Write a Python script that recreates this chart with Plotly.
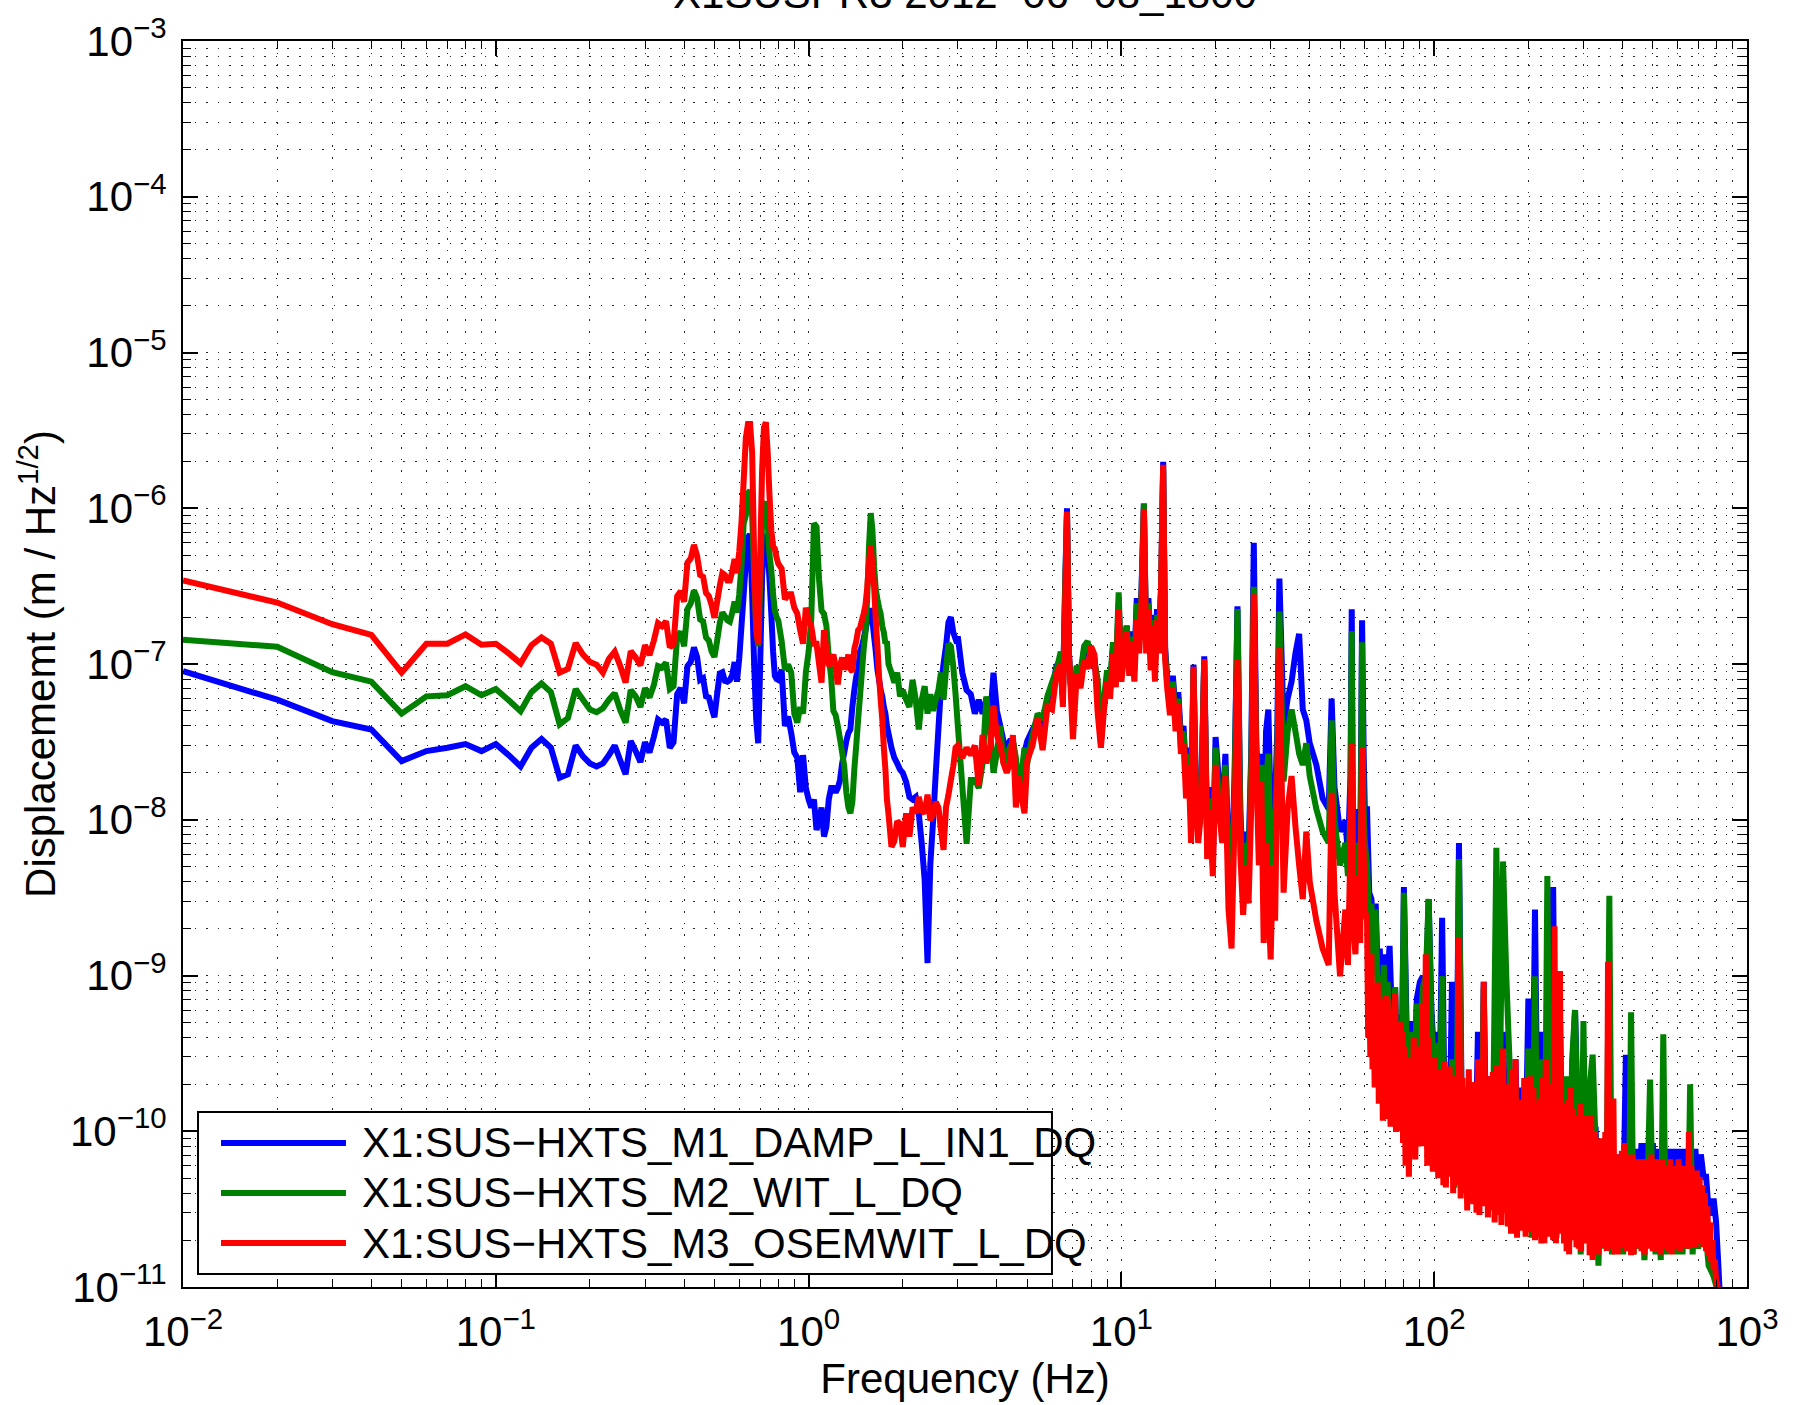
import plotly.graph_objects as go

# ---------------- data ----------------
freq_low = [0.01, 0.02, 0.03, 0.04, 0.05, 0.06, 0.07, 0.08, 0.09, 0.10,
            0.11, 0.12, 0.13, 0.14, 0.15, 0.16, 0.17, 0.18, 0.19, 0.20,
            0.21, 0.22, 0.23, 0.24, 0.25, 0.26, 0.27, 0.28, 0.29, 0.30,
            0.31, 0.32, 0.33, 0.34, 0.35, 0.36, 0.37, 0.38, 0.39, 0.40,
            0.41, 0.42, 0.43, 0.44, 0.45, 0.46, 0.47, 0.48, 0.49, 0.50,
            0.51, 0.52, 0.53, 0.54, 0.55, 0.56, 0.57, 0.58, 0.59, 0.60,
            0.61, 0.62, 0.63, 0.64, 0.65, 0.66, 0.67, 0.68, 0.69, 0.70,
            0.71, 0.72, 0.73, 0.74, 0.75, 0.76, 0.77, 0.78, 0.79]
blue_low = [9.0e-8, 5.9e-8, 4.3e-8, 3.8e-8, 2.38e-8, 2.76e-8, 2.9e-8, 3.06e-8, 2.76e-8, 3.06e-8,
            2.6e-8, 2.2e-8, 2.9e-8, 3.3e-8, 2.9e-8, 1.86e-8, 1.96e-8, 3.0e-8, 2.55e-8, 2.3e-8,
            2.2e-8, 2.3e-8, 2.6e-8, 3.0e-8, 2.4e-8, 1.96e-8, 3.2e-8, 2.76e-8, 2.35e-8, 3.15e-8,
            2.7e-8, 3.4e-8, 4.4e-8, 4.2e-8, 4.4e-8, 2.9e-8, 3.15e-8, 6.4e-8, 7.0e-8, 5.6e-8,
            9.7e-8, 1.03e-7, 1.28e-7, 1.11e-7, 7.9e-8, 8.1e-8, 6.2e-8, 6.1e-8, 5.2e-8, 4.55e-8,
            6.4e-8, 8.7e-8, 8.86e-8, 7.8e-8, 7.7e-8, 7.9e-8, 8.5e-8, 1.03e-7, 7.7e-8, 1.08e-7,
            1.74e-7, 2.79e-7, 4.48e-7, 6.5e-7, 6.8e-7, 2.8e-7, 9.7e-8, 4.4e-8, 3.1e-8, 9.7e-8,
            3.6e-7, 6.1e-7, 6.8e-7, 5.5e-7, 3.5e-7, 2.1e-7, 1.2e-7, 8.4e-8, 8.0e-8]
green_low = [1.43e-7, 1.29e-7, 8.86e-8, 7.7e-8, 4.8e-8, 6.2e-8, 6.3e-8, 7.2e-8, 6.3e-8, 6.9e-8,
             5.85e-8, 4.97e-8, 6.6e-8, 7.5e-8, 6.6e-8, 4.1e-8, 4.5e-8, 6.9e-8, 5.9e-8, 5.1e-8,
             4.9e-8, 5.2e-8, 5.9e-8, 6.5e-8, 5.05e-8, 4.2e-8, 6.8e-8, 6.2e-8, 5.3e-8, 7.0e-8,
             6.1e-8, 7.3e-8, 9.7e-8, 9.5e-8, 1.02e-7, 6.9e-8, 7.2e-8, 1.5e-7, 1.61e-7, 1.30e-7,
             2.26e-7, 2.45e-7, 2.97e-7, 2.65e-7, 1.93e-7, 1.88e-7, 1.48e-7, 1.41e-7, 1.20e-7, 1.11e-7,
             1.41e-7, 1.83e-7, 2.14e-7, 2.03e-7, 1.91e-7, 1.87e-7, 2.14e-7, 2.51e-7, 2.14e-7, 2.79e-7,
             4.26e-7, 7.98e-7, 9.0e-7, 1.25e-6, 1.3e-6, 9.0e-7, 3.5e-7, 1.7e-7, 1.3e-7, 3.0e-7,
             8.0e-7, 1.05e-6, 1.1e-6, 8.0e-7, 5.0e-7, 4.0e-7, 2.8e-7, 2.2e-7, 2.0e-7]
red_low = [3.44e-7, 2.48e-7, 1.80e-7, 1.54e-7, 8.8e-8, 1.35e-7, 1.35e-7, 1.55e-7, 1.33e-7, 1.35e-7,
           1.17e-7, 1.01e-7, 1.32e-7, 1.48e-7, 1.35e-7, 8.8e-8, 9.3e-8, 1.36e-7, 1.15e-7, 1.03e-7,
           9.9e-8, 8.8e-8, 1.08e-7, 1.20e-7, 9.7e-8, 7.6e-8, 1.21e-7, 1.10e-7, 9.8e-8, 1.32e-7,
           1.14e-7, 1.41e-7, 1.83e-7, 1.75e-7, 1.88e-7, 1.28e-7, 1.34e-7, 2.72e-7, 2.94e-7, 2.51e-7,
           4.48e-7, 4.76e-7, 5.82e-7, 4.97e-7, 3.73e-7, 3.63e-7, 2.86e-7, 2.72e-7, 2.38e-7, 1.98e-7,
           2.51e-7, 3.18e-7, 3.83e-7, 3.73e-7, 3.44e-7, 3.44e-7, 3.93e-7, 4.72e-7, 3.83e-7, 5.24e-7,
           8.0e-7, 1.50e-6, 2.82e-6, 3.47e-6, 3.47e-6, 2.28e-6, 4.72e-7, 1.65e-7, 1.34e-7, 4.72e-7,
           1.75e-6, 3.3e-6, 3.57e-6, 2.28e-6, 1.2e-6, 7.2e-7, 5.7e-7, 5.5e-7, 4.8e-7]

freq_mid = [0.80, 0.82, 0.84, 0.86, 0.88, 0.90, 0.92, 0.94, 0.96, 0.98,
            1.00, 1.02, 1.04, 1.06, 1.08, 1.10, 1.12, 1.14, 1.16, 1.18,
            1.20, 1.22, 1.24, 1.26, 1.28, 1.30, 1.32, 1.34, 1.36, 1.38,
            1.40, 1.42, 1.44, 1.46, 1.48, 1.50, 1.52, 1.54, 1.56, 1.58,
            1.60, 1.62, 1.64, 1.66, 1.68, 1.70, 1.72, 1.74, 1.76, 1.78,
            1.80, 1.84, 1.88, 1.92, 1.96,
            2.00, 2.05, 2.10, 2.15, 2.20, 2.25, 2.30, 2.35, 2.40, 2.45,
            2.50, 2.55, 2.60, 2.65, 2.70, 2.75, 2.80, 2.85, 2.90, 2.95,
            3.0, 3.1, 3.2, 3.3, 3.4, 3.5, 3.6, 3.7, 3.8, 3.9,
            4.0, 4.1, 4.2, 4.3, 4.4, 4.5, 4.6, 4.7, 4.8, 4.9,
            5.0, 5.2, 5.4, 5.6, 5.8,
            6.0, 6.2, 6.4, 6.5, 6.6, 6.7, 6.8,
            7.0, 7.2, 7.4, 7.6, 7.8,
            8.0, 8.2, 8.4]
blue_mid = [7.9e-8, 9.2e-8, 4.0e-8, 4.6e-8, 3.6e-8, 2.7e-8, 2.5e-8, 1.5e-8, 2.6e-8, 1.6e-8,
            1.35e-8, 1.2e-8, 1.35e-8, 8.6e-9, 9.8e-9, 1.2e-8, 7.8e-9, 9.0e-9, 1.35e-8, 1.6e-8,
            1.6e-8, 1.5e-8, 1.6e-8, 1.8e-8, 2.3e-8, 2.7e-8, 3.2e-8, 3.6e-8, 3.8e-8, 5.3e-8,
            6.8e-8, 8.3e-8, 9.2e-8, 1.2e-7, 1.3e-7, 1.45e-7, 1.65e-7, 1.9e-7, 2.2e-7, 2.2e-7,
            1.9e-7, 1.5e-7, 1.2e-7, 9.2e-8, 7.9e-8, 6.8e-8, 6.2e-8, 5.3e-8, 4.8e-8, 4.0e-8,
            3.6e-8, 2.9e-8, 2.5e-8, 2.3e-8, 2.1e-8,
            2.0e-8, 1.75e-8, 1.4e-8, 1.35e-8, 1.4e-8, 1.1e-8, 7.0e-9, 4.1e-9, 1.2e-9, 5.2e-9,
            9.8e-9, 2.0e-8, 3.8e-8, 7.2e-8, 1.0e-7, 1.3e-7, 1.85e-7, 2.0e-7, 1.6e-7, 1.45e-7,
            1.5e-7, 8.8e-8, 6.8e-8, 6.4e-8, 4.8e-8, 5.9e-8, 4.8e-8, 5.9e-8, 4.2e-8, 8.8e-8,
            5.0e-8, 4.0e-8, 3.2e-8, 2.9e-8, 3.2e-8, 3.2e-8, 2.3e-8, 1.4e-8, 1.8e-8, 2.7e-8,
            3.2e-8, 3.8e-8, 4.4e-8, 4.0e-8, 5.9e-8,
            6.8e-8, 9.7e-8, 1.05e-7, 6.2e-8, 2.8e-7, 1.0e-6, 1.15e-7,
            4.4e-8, 9.7e-8, 7.9e-8, 1.25e-7, 1.3e-7,
            9.7e-8, 1.1e-7, 6.2e-8]
green_mid = [1.9e-7, 1.4e-7, 9.2e-8, 9.9e-8, 8.8e-8, 4.8e-8, 4.2e-8, 5.3e-8, 4.8e-8, 8.8e-8,
             1.2e-7, 1.95e-7, 8.0e-7, 7.6e-7, 3.5e-7, 2.2e-7, 2.1e-7, 1.75e-7, 1.1e-7, 8.3e-8,
             5.0e-8, 4.7e-8, 4.0e-8, 3.3e-8, 2.7e-8, 2.2e-8, 1.5e-8, 1.2e-8, 1.1e-8, 1.3e-8,
             2.1e-8, 3.0e-8, 4.4e-8, 6.2e-8, 8.8e-8, 1.25e-7, 1.6e-7, 2.7e-7, 5.7e-7, 9.3e-7,
             7.2e-7, 4.2e-7, 3.0e-7, 2.6e-7, 2.3e-7, 2.1e-7, 1.75e-7, 1.6e-7, 1.35e-7, 1.4e-7,
             1.0e-7, 8.8e-8, 7.6e-8, 8.8e-8, 6.2e-8,
             6.8e-8, 5.9e-8, 5.3e-8, 7.9e-8, 5.9e-8, 3.8e-8, 5.9e-8, 7.2e-8, 4.8e-8, 6.4e-8,
             5.0e-8, 5.9e-8, 6.8e-8, 8.8e-8, 5.9e-8, 9.2e-8, 1.35e-7, 1.3e-7, 9.7e-8, 6.4e-8,
             4.0e-8, 1.65e-8, 7.0e-9, 1.8e-8, 1.8e-8, 1.6e-8, 2.3e-8, 6.2e-8, 3.8e-8, 2.0e-8,
             2.7e-8, 4.0e-8, 2.3e-8, 2.7e-8, 2.9e-8, 3.2e-8, 2.5e-8, 1.5e-8, 2.0e-8, 2.9e-8,
             2.3e-8, 3.5e-8, 4.8e-8, 4.4e-8, 6.2e-8,
             7.6e-8, 9.2e-8, 1.2e-7, 5.9e-8, 2.7e-7, 9.5e-7, 1.1e-7,
             4.8e-8, 9.7e-8, 8.8e-8, 1.3e-7, 1.4e-7,
             1.0e-7, 1.05e-7, 7.9e-8]
red_mid = [4.4e-7, 4.1e-7, 2.6e-7, 2.8e-7, 2.8e-7, 2.3e-7, 2.1e-7, 1.65e-7, 1.35e-7, 2.3e-7,
           1.9e-7, 1.75e-7, 1.35e-7, 1.35e-7, 1.0e-7, 7.6e-8, 1.65e-7, 1.25e-7, 9.7e-8, 1.05e-7,
           1.15e-7, 9.7e-8, 7.4e-8, 9.7e-8, 1.1e-7, 9.3e-8, 9.7e-8, 1.15e-7, 9.3e-8, 8.9e-8,
           1.25e-7, 1.4e-7, 1.65e-7, 1.7e-7, 1.9e-7, 2.1e-7, 2.4e-7, 3.1e-7, 4.5e-7, 5.7e-7,
           4.2e-7, 3.1e-7, 1.9e-7, 1.3e-7, 8.3e-8, 5.9e-8, 4.4e-8, 2.9e-8, 2.1e-8, 1.35e-8,
           1.1e-8, 6.7e-9, 7.3e-9, 9.8e-9, 9.4e-9,
           6.7e-9, 1.1e-8, 7.8e-9, 1.2e-8, 1.1e-8, 1.4e-8, 1.15e-8, 1.1e-8, 1.45e-8, 9.9e-9,
           1.1e-8, 1.3e-8, 1.2e-8, 8.6e-9, 6.4e-9, 1.2e-8, 1.45e-8, 1.8e-8, 2.2e-8, 2.9e-8,
           3.0e-8, 2.5e-8, 2.9e-8, 2.6e-8, 3.0e-8, 1.65e-8, 3.5e-8, 2.3e-8, 2.9e-8, 5.4e-8,
           3.5e-8, 3.0e-8, 2.3e-8, 2.0e-8, 2.3e-8, 3.5e-8, 1.2e-8, 1.9e-8, 1.4e-8, 1.1e-8,
           2.4e-8, 3.0e-8, 4.5e-8, 2.8e-8, 5.3e-8,
           5.1e-8, 8.6e-8, 1.0e-7, 5.3e-8, 2.1e-7, 9.5e-7, 1.15e-7,
           3.3e-8, 8.6e-8, 7.0e-8, 1.05e-7, 9.3e-8,
           1.3e-7, 1.15e-7, 4.8e-8]

freq_h1 = [8.6, 8.8, 9.0, 9.2, 9.4, 9.6, 9.8, 10.0, 10.2, 10.4,
           10.6, 10.8, 11.0, 11.2, 11.4, 11.6, 11.8, 12.0, 12.2, 12.4,
           12.6, 12.8, 13.0, 13.2, 13.4, 13.6, 13.8, 14.0,
           14.3, 14.6, 14.9, 15.2, 15.5, 15.8, 16.1, 16.4, 16.7, 17.0, 17.3, 17.6,
           18.0, 18.4, 18.8, 19.2, 19.6,
           20.0, 20.5, 21.0, 21.5, 22.0, 22.5, 23.0, 23.5, 24.0, 24.5,
           25.0, 25.5, 26.0, 26.5, 27.0, 27.5, 28.0, 28.5, 29.0, 29.5,
           30.0, 30.5, 31.0, 31.5, 32.0,
           33, 34, 35, 36, 37, 38, 39, 40,
           42, 44, 46, 47, 48, 50, 52, 53, 54, 54.5,
           55, 56, 57, 58, 58.8, 59.5, 60]
blue_h1 = [3.1e-8, 5.6e-8, 8.4e-8, 7.1e-8, 1.27e-7, 7.7e-8, 2.45e-7, 9.1e-8, 1.27e-7, 1.76e-7,
           9.1e-8, 1.62e-7, 9.9e-8, 2.65e-7, 1.49e-7, 3.13e-7, 1.07e-6, 1.38e-7, 2.65e-7, 1.27e-7,
           2.07e-7, 9.9e-8, 2.25e-7, 1.49e-7, 3.13e-7, 1.99e-6, 1.27e-7, 8.4e-8,
           6.6e-8, 8.4e-8, 5.1e-8, 6.6e-8, 3.4e-8, 4.0e-8, 1.91e-8, 2.9e-8, 1.17e-8, 9.9e-8, 1.62e-8, 9.1e-9,
           1.49e-8, 1.12e-7, 7.7e-9, 1.62e-8, 5.1e-9,
           3.4e-8, 1.76e-8, 9.9e-9, 2.65e-8, 6.0e-9, 4.35e-9, 1.91e-8, 2.35e-7, 1.17e-8, 4.0e-9,
           8.4e-9, 6.0e-9, 2.65e-8, 6.0e-7, 3.1e-8, 1.17e-8, 2.65e-8, 5.1e-9, 3.7e-8, 5.1e-8,
           1.17e-8, 1.91e-8, 1.37e-8, 3.7e-8, 3.54e-7,
           4.0e-8, 6.0e-8, 7.7e-8, 1.17e-7, 1.56e-7, 5.1e-8, 4.35e-8, 3.1e-8,
           2.25e-8, 1.37e-8, 1.17e-8, 6.0e-8, 1.62e-8, 8.4e-9, 9.9e-9, 6.0e-9, 1.91e-8, 2.25e-7,
           7.1e-9, 5.1e-9, 1.17e-8, 5.1e-9, 1.91e-7, 2.65e-8, 1.17e-8]
green_h1 = [3.7e-8, 6.0e-8, 9.1e-8, 7.7e-8, 1.38e-7, 9.1e-8, 2.88e-7, 8.4e-8, 1.38e-7, 1.76e-7,
            9.9e-8, 1.49e-7, 9.1e-8, 2.45e-7, 1.38e-7, 2.88e-7, 1.07e-6, 1.38e-7, 2.45e-7, 1.17e-7,
            1.91e-7, 9.1e-8, 2.07e-7, 1.38e-7, 3.13e-7, 1.76e-6, 1.17e-7, 7.7e-8,
            6.0e-8, 7.7e-8, 4.35e-8, 6.0e-8, 2.9e-8, 3.7e-8, 1.76e-8, 2.65e-8, 9.9e-9, 9.1e-8, 1.49e-8, 7.7e-9,
            1.27e-8, 1.07e-7, 6.6e-9, 1.37e-8, 6.0e-9,
            2.9e-8, 1.37e-8, 9.1e-9, 2.25e-8, 5.1e-9, 3.4e-9, 1.62e-8, 2.25e-7, 9.9e-9, 3.4e-9,
            7.1e-9, 5.1e-9, 2.25e-8, 3.13e-7, 2.65e-8, 7.7e-9, 2.25e-8, 3.4e-9, 1.76e-8, 2.65e-8,
            5.1e-9, 1.17e-8, 7.7e-9, 2.65e-8, 2.17e-7,
            1.76e-8, 3.7e-8, 5.1e-8, 3.7e-8, 2.65e-8, 2.25e-8, 3.1e-8, 1.91e-8,
            1.17e-8, 8.4e-9, 7.1e-9, 4.35e-8, 9.9e-9, 5.1e-9, 7.1e-9, 4.35e-9, 1.17e-8, 1.62e-7,
            4.35e-9, 3.1e-9, 7.1e-9, 3.1e-9, 1.38e-7, 1.17e-8, 7.1e-9]
red_h1 = [2.9e-8, 5.1e-8, 7.7e-8, 6.0e-8, 1.17e-7, 7.1e-8, 2.25e-7, 7.7e-8, 1.17e-7, 1.62e-7,
          8.4e-8, 1.38e-7, 7.7e-8, 1.91e-7, 1.17e-7, 2.45e-7, 9.9e-7, 1.17e-7, 2.25e-7, 9.1e-8,
          1.76e-7, 7.7e-8, 1.91e-7, 1.17e-7, 3.4e-7, 1.9e-6, 1.07e-7, 7.1e-8,
          4.7e-8, 7.1e-8, 3.7e-8, 5.6e-8, 2.65e-8, 3.1e-8, 1.37e-8, 2.25e-8, 7.1e-9, 9.6e-8, 1.27e-8, 7.1e-9,
          1.17e-8, 1.07e-7, 5.6e-9, 1.17e-8, 4.35e-9,
          2.25e-8, 1.17e-8, 7.1e-9, 1.91e-8, 2.65e-9, 1.49e-9, 9.9e-9, 1.07e-7, 6.0e-9, 2.45e-9,
          5.1e-9, 2.9e-9, 1.17e-8, 2.8e-7, 2.25e-8, 5.1e-9, 1.76e-8, 1.62e-9, 7.1e-9, 3.1e-9,
          1.27e-9, 5.1e-9, 2.25e-9, 1.91e-8, 1.27e-7,
          3.4e-9, 1.17e-8, 1.91e-8, 9.1e-9, 5.1e-9, 3.1e-9, 8.4e-9, 4.0e-9,
          2.25e-9, 1.49e-9, 1.17e-9, 1.49e-8, 3.4e-9, 9.9e-10, 2.65e-9, 1.17e-9, 7.1e-9, 3.1e-8,
          2.25e-9, 1.37e-9, 4.35e-9, 1.62e-9, 2.9e-8, 6.0e-9, 2.65e-9]

# 60-830 Hz, blue and green
freq_h2 = [61, 62, 63, 64, 65, 66, 67, 68, 69, 70,
           71, 72, 73, 74, 75, 76, 77, 78, 79, 80,
           82, 84, 86, 88, 90, 92, 94, 96, 98, 100,
           102, 104, 106, 108, 110, 112, 114, 116, 118, 120,
           123, 126, 129, 132, 135, 138, 141, 144, 147, 150,
           154, 158, 162, 166, 170, 174, 178, 182, 186, 190,
           195, 200, 205, 210, 215, 220, 225, 230, 235, 240,
           246, 252, 258, 264, 270, 276, 282, 288, 294, 300,
           307, 314, 321, 328, 335, 342, 349, 356, 363, 370,
           378, 386, 394, 402, 410, 418, 426, 434, 442, 450,
           460, 470, 480, 490, 500, 510, 520, 530, 540, 550,
           562, 574, 586, 598, 610, 622, 634, 646, 658, 670,
           684, 698, 712, 726, 740, 754, 768, 782, 796, 810,
           830]
blue_h2 = [1.17e-8, 3.4e-9, 3.1e-9, 1.49e-9, 2.9e-9, 9.9e-10, 1.49e-9, 5.1e-10, 1.37e-9, 4.35e-10,
           9.9e-10, 1.55e-9, 6.6e-10, 4.35e-10, 8.4e-10, 2.9e-10, 5.6e-10, 2.45e-10, 4.7e-10, 3.7e-9,
           2.9e-10, 5.1e-10, 1.76e-10, 7.1e-10, 9.1e-10, 9.9e-10, 6.6e-10, 3.1e-9, 6.0e-10, 2.9e-10,
           4.35e-10, 1.62e-10, 2.35e-9, 1.27e-10, 2.25e-10, 9.9e-11, 9.1e-10, 8.4e-11, 1.91e-10, 7.1e-9,
           5.6e-11, 1.91e-10, 4.0e-11, 9.9e-11, 4.7e-11, 4.35e-10, 4.35e-11, 9.1e-10, 5.6e-11, 2.25e-10,
           8.4e-11, 2.9e-10, 5.6e-11, 4.35e-10, 6.0e-11, 2.25e-10, 3.7e-11, 2.9e-10, 3.1e-11, 1.91e-10,
           3.7e-11, 7.1e-10, 3.1e-11, 2.65e-9, 3.7e-11, 4.35e-10, 2.9e-11, 6.6e-10, 3.7e-11, 3.7e-9,
           2.9e-11, 6.6e-10, 3.7e-11, 1.91e-10, 2.45e-11, 2.25e-10, 6.0e-10, 1.17e-10, 2.45e-11, 1.37e-10,
           2.9e-11, 1.49e-10, 2.07e-11, 1.07e-10, 2.25e-11, 8.4e-11, 3.1e-11, 7.1e-11, 8.4e-11, 2.45e-11,
           7.1e-11, 2.65e-11, 7.1e-11, 3.1e-11, 3.1e-10, 3.7e-11, 7.7e-11, 3.1e-11, 7.7e-11, 3.7e-11,
           8.4e-11, 3.4e-11, 8.4e-11, 3.7e-11, 8.4e-11, 3.7e-11, 7.7e-11, 3.4e-11, 8.4e-11, 3.7e-11,
           7.7e-11, 3.4e-11, 7.7e-11, 3.7e-11, 7.7e-11, 3.7e-11, 7.7e-11, 3.7e-11, 7.7e-11, 3.7e-11,
           7.7e-11, 3.7e-11, 7.1e-11, 5.1e-11, 5.1e-11, 3.1e-11, 2.9e-11, 3.7e-11, 2.65e-11, 1.37e-11,
           5e-12]
green_h2 = [5.1e-9, 2.25e-9, 2.9e-9, 9.9e-10, 2.65e-9, 6.6e-10, 9.9e-10, 4.35e-10, 1.17e-9, 2.9e-10,
            9.1e-10, 3.7e-10, 6.0e-10, 2.9e-10, 8.4e-10, 1.91e-10, 5.1e-10, 2.25e-10, 4.35e-10, 3.4e-9,
            1.91e-10, 4.35e-10, 1.62e-10, 6.6e-10, 2.9e-10, 8.4e-10, 9.9e-10, 3.1e-9, 5.1e-10, 1.91e-10,
            3.7e-10, 1.27e-10, 9.9e-10, 8.4e-11, 1.91e-10, 7.1e-11, 2.9e-10, 4.35e-11, 1.27e-10, 5.6e-9,
            4.35e-11, 1.27e-10, 3.7e-11, 8.4e-11, 4.35e-11, 1.91e-10, 3.7e-11, 8.4e-10, 3.4e-11, 1.91e-10,
            8.4e-11, 6.6e-9, 1.91e-10, 5.4e-9, 9.9e-10, 2.9e-10, 3.1e-11, 1.91e-10, 2.45e-11, 1.27e-10,
            2.45e-11, 3.4e-10, 2.07e-11, 9.9e-10, 2.45e-11, 2.9e-10, 2.07e-11, 4.35e-9, 2.45e-11, 6.6e-10,
            2.07e-11, 4.35e-10, 2.25e-11, 2.25e-10, 1.91e-11, 2.9e-10, 6.0e-10, 8.4e-11, 1.62e-11, 5.1e-10,
            2.07e-11, 1.91e-10, 3.1e-10, 8.4e-11, 1.37e-11, 5.6e-11, 1.76e-11, 5.1e-11, 3.25e-9, 1.62e-11,
            5.6e-11, 1.76e-11, 3.7e-11, 1.62e-11, 4.35e-11, 1.91e-11, 5.8e-10, 1.62e-11, 3.7e-11, 1.76e-11,
            4.35e-11, 1.49e-11, 3.7e-11, 2.15e-10, 3.1e-11, 1.62e-11, 4.0e-11, 1.49e-11, 4.2e-10, 1.62e-11,
            3.7e-11, 1.76e-11, 3.4e-11, 1.62e-11, 4.0e-11, 1.62e-11, 3.7e-11, 1.76e-11, 2.0e-10, 1.62e-11,
            3.7e-11, 1.76e-11, 3.1e-11, 1.91e-11, 2.07e-11, 1.37e-11, 1.27e-11, 1.17e-11, 1.03e-11, 8.4e-12,
            3.2e-12]

# 60-830 Hz, red (read at a finer spacing: it is the dense top layer)
freq_h2_red = [61, 61.5, 62, 62.5, 63, 63.5, 64, 64.5, 65, 65.5,
               66, 66.5, 67, 67.5, 68, 68.5, 69, 69.5, 70, 70.5,
               71, 71.5, 72, 72.5, 73, 73.5, 74, 74.5, 75, 75.5,
               76, 76.5, 77, 77.5, 78, 78.5, 79, 79.5, 80,
               81, 82, 83, 84, 85, 86, 87, 88, 89, 90,
               91, 92, 93, 94, 95, 96, 97, 98, 99, 100,
               101, 102, 103, 104, 105, 106, 107, 108, 109, 110,
               111, 112, 113, 114, 115, 116, 117, 118, 119, 120,
               121.5, 123, 124.5, 126, 127.5, 129, 130.5, 132, 133.5, 135,
               136.5, 138, 139.5, 141, 142.5, 144, 145.5, 147, 148.5, 150,
               152, 154, 156, 158, 160, 162, 164, 166, 168, 170,
               172, 174, 176, 178, 180, 182, 184, 186, 188, 190,
               192, 194, 196, 198, 200,
               202.5, 205, 207.5, 210, 212.5, 215, 217.5, 220, 222.5, 225,
               227.5, 230, 232.5, 235, 237.5, 240, 242.5, 245, 247.5, 250,
               252.5, 255, 257.5, 260, 262.5, 265, 267.5, 270, 272.5, 275,
               277.5, 280, 282.5, 285, 287.5, 290, 292.5, 295, 297.5, 300,
               303.5, 307, 310.5, 314, 317.5, 321, 324.5, 328, 331.5, 335,
               338.5, 342, 345.5, 349, 352.5, 356, 359.5, 363, 366.5, 370,
               374, 378, 382, 386, 390, 394, 398, 402, 406, 410,
               414, 418, 422, 426, 430, 434, 438, 442, 446, 450,
               455, 460, 465, 470, 475, 480, 485, 490, 495, 500,
               505, 510, 515, 520, 525, 530, 535, 540, 545, 550,
               556, 562, 568, 574, 580, 586, 592, 598, 604, 610,
               616, 622, 628, 634, 640, 646, 652, 658, 664, 670,
               677, 684, 691, 698, 705, 712, 719, 726, 733, 740,
               747, 754, 761, 768, 775, 782, 789, 796, 803, 810,
               830]
red_h2 = [2.25e-9, 4.0e-10, 9.0e-10, 3.0e-10, 1.37e-9, 2.5e-10, 8.0e-10, 1.91e-10, 6.6e-10, 2.2e-10,
          9.0e-10, 1.5e-10, 7.1e-10, 1.8e-10, 5.5e-10, 1.17e-10, 6.0e-10, 1.6e-10, 7.5e-10, 1.37e-10,
          7.1e-10, 1.2e-10, 4.5e-10, 1.07e-10, 5.1e-10, 1.5e-10, 6.0e-10, 1.27e-10, 7.7e-10, 9.9e-11,
          4.0e-10, 1.3e-10, 3.7e-10, 1.0e-10, 5.0e-10, 1.37e-10, 4.35e-10, 8.4e-11, 3.5e-10,
          6.0e-11, 3.0e-10, 5.1e-11, 2.9e-10, 7.0e-11, 4.0e-10, 6.6e-11, 2.9e-10, 8.0e-11, 3.5e-10,
          9.9e-11, 6.6e-10, 8.0e-11, 1.37e-9, 6.0e-11, 4.0e-10, 8.4e-11, 2.9e-10, 5.5e-11, 3.0e-10,
          6.6e-11, 2.25e-10, 5.0e-11, 2.5e-10, 5.6e-11, 1.91e-10, 4.5e-11, 2.8e-10, 4.35e-11, 1.62e-10,
          5.5e-11, 2.6e-10, 5.1e-11, 2.25e-10, 4.0e-11, 1.8e-10, 4.5e-11, 1.91e-10, 5.0e-11, 1.76e-9,
          3.7e-11, 2.2e-10, 4.0e-11, 1.91e-10, 3.1e-11, 2.5e-10, 3.5e-11, 2.07e-10, 3.4e-11, 1.6e-10,
          3.0e-11, 2.9e-10, 2.9e-11, 1.8e-10, 3.3e-11, 9.1e-10, 3.7e-11, 2.0e-10, 2.8e-11, 2.25e-10,
          3.1e-11, 2.4e-10, 2.6e-11, 2.65e-10, 2.9e-11, 1.8e-10, 2.5e-11, 3.4e-10, 3.0e-11, 2.0e-10,
          2.45e-11, 1.91e-10, 2.2e-11, 2.5e-10, 2.45e-11, 2.9e-10, 2.07e-11, 1.6e-10, 2.3e-11, 1.49e-10,
          2.65e-11, 2.2e-10, 2.1e-11, 1.7e-10, 2.25e-11,
          2.25e-10, 2.25e-11, 1.91e-10, 2.0e-11, 1.5e-10, 2.07e-11, 1.62e-10, 1.9e-11, 2.2e-10, 1.91e-11,
          2.9e-10, 2.1e-11, 1.6e-10, 2.25e-11, 2.0e-10, 2.0e-11, 2.07e-9, 1.91e-11, 1.8e-10, 2.2e-11,
          1.07e-9, 2.45e-11, 1.5e-10, 1.9e-11, 1.27e-10, 1.7e-11, 1.6e-10, 1.62e-11, 1.91e-10, 2.0e-11,
          1.4e-10, 2.07e-11, 1.2e-10, 1.8e-11, 1.27e-10, 1.76e-11, 1.5e-10, 1.7e-11, 1.07e-10, 1.9e-11,
          1.27e-10, 1.91e-11, 1.0e-10, 1.6e-11, 1.27e-10, 1.49e-11, 9.9e-11, 1.7e-11, 8.4e-11, 1.62e-11,
          9.0e-11, 1.8e-11, 8.4e-11, 1.91e-11, 9.9e-11, 1.7e-11, 1.22e-9, 1.8e-11, 9.0e-11, 1.76e-11,
          1.62e-10, 1.62e-11, 7.1e-11, 1.62e-11, 6.6e-11, 1.8e-11, 7.5e-11, 1.91e-11, 8.4e-11, 1.7e-11,
          7.1e-11, 1.76e-11, 6.6e-11, 1.6e-11, 7.1e-11, 1.62e-11, 6.0e-11, 1.8e-11, 6.6e-11, 1.91e-11,
          6.6e-11, 1.7e-11, 6.0e-11, 1.62e-11, 6.6e-11, 1.8e-11, 6.0e-11, 1.76e-11, 7.1e-11, 1.7e-11,
          6.0e-11, 1.91e-11, 6.6e-11, 1.7e-11, 6.0e-11, 1.62e-11, 6.6e-11, 1.8e-11, 6.0e-11, 1.76e-11,
          6.0e-11, 1.7e-11, 6.6e-11, 1.62e-11, 5.6e-11, 1.8e-11, 6.0e-11, 1.76e-11, 6.6e-11, 1.7e-11,
          5.6e-11, 1.91e-11, 6.0e-11, 1.8e-11, 5.6e-11, 1.76e-11, 9.9e-11, 1.8e-11, 6.0e-11, 1.91e-11,
          5.6e-11, 1.8e-11, 5.6e-11, 1.91e-11, 5.1e-11, 1.9e-11, 4.5e-11, 1.8e-11, 4.0e-11, 1.7e-11,
          3.3e-11, 1.6e-11, 2.6e-11, 1.45e-11, 2.0e-11, 1.3e-11, 1.5e-11, 1.12e-11, 1.05e-11, 9.1e-12,
          3.2e-12]

series_names = ["X1:SUS\u2212HXTS_M1_DAMP_L_IN1_DQ",
                "X1:SUS\u2212HXTS_M2_WIT_L_DQ",
                "X1:SUS\u2212HXTS_M3_OSEMWIT_L_DQ"]
series_colors = ["#0000FF", "#008000", "#FF0000"]

x_tickvals = [1e-2, 1e-1, 1e0, 1e1, 1e2, 1e3]
x_ticktext = ["10<sup>\u22122</sup>", "10<sup>\u22121</sup>", "10<sup>0</sup>",
              "10<sup>1</sup>", "10<sup>2</sup>", "10<sup>3</sup>"]
y_tickvals = [1e-11, 1e-10, 1e-9, 1e-8, 1e-7, 1e-6, 1e-5, 1e-4, 1e-3]
y_ticktext = ["10<sup>\u221211</sup>", "10<sup>\u221210</sup>", "10<sup>\u22129</sup>",
              "10<sup>\u22128</sup>", "10<sup>\u22127</sup>", "10<sup>\u22126</sup>",
              "10<sup>\u22125</sup>", "10<sup>\u22124</sup>", "10<sup>\u22123</sup>"]

title_text = "X1SUSPR3 2012\u221206\u221208_1800"
x_label = "Frequency (Hz)"
y_label = "Displacememt (m / Hz<sup>1/2</sup>)"

# ---------------- figure ----------------
freq_common = freq_low + freq_mid + freq_h1
series_x = [freq_common + freq_h2,
            freq_common + freq_h2,
            freq_common + freq_h2_red]
series_values = [blue_low + blue_mid + blue_h1 + blue_h2,
                 green_low + green_mid + green_h1 + green_h2,
                 red_low + red_mid + red_h1 + red_h2]

FONT = "Liberation Sans, Arial, Helvetica, sans-serif"
FS = 42
LW = 6

fig = go.Figure()
for name, xs, vals, color in zip(series_names, series_x, series_values, series_colors):
    fig.add_trace(go.Scatter(x=xs, y=vals, mode="lines", name=name,
                             line=dict(color=color, width=LW, simplify=False),
                             showlegend=False))


def minor_vals(lo, hi):
    out = []
    for e in range(lo, hi):
        for m in range(2, 10):
            out.append(m * 10.0 ** e)
    return out


grid_common = dict(gridcolor="rgba(0,0,0,0.85)", gridwidth=1.4, griddash="1.6px,10px")

fig.update_xaxes(type="log", range=[-2, 3], tickmode="array",
                 tickvals=x_tickvals, ticktext=x_ticktext,
                 ticks="inside", ticklen=15, tickwidth=1.5, tickcolor="black",
                 showline=True, linecolor="black", linewidth=2, mirror="allticks",
                 showgrid=True, zeroline=False, ticklabelstandoff=7,
                 tickfont=dict(family=FONT, size=FS, color="black"),
                 title=dict(text=x_label, font=dict(family=FONT, size=FS, color="black"), standoff=6),
                 minor=dict(tickmode="array", tickvals=minor_vals(-2, 3), ticks="inside",
                            ticklen=8, tickwidth=1.2, tickcolor="black", showgrid=True, **grid_common),
                 **grid_common)
fig.update_yaxes(type="log", range=[-11, -3], tickmode="array",
                 tickvals=y_tickvals, ticktext=y_ticktext,
                 ticks="inside", ticklen=15, tickwidth=1.5, tickcolor="black",
                 showline=True, linecolor="black", linewidth=2, mirror="allticks",
                 showgrid=True, zeroline=False, ticklabelstandoff=6,
                 tickfont=dict(family=FONT, size=FS, color="black"),
                 title=dict(text=y_label, font=dict(family=FONT, size=FS, color="black"), standoff=1),
                 minor=dict(tickmode="array", tickvals=minor_vals(-11, -3), ticks="inside",
                            ticklen=8, tickwidth=1.2, tickcolor="black", showgrid=True, **grid_common),
                 **grid_common)

# legend drawn as a box in paper coordinates (matches the reference's long line samples)
legend_rows_y = [0.1156, 0.0755, 0.0353]
shapes = [dict(type="rect", xref="paper", yref="paper", x0=0.0096, x1=0.5556, y0=0.0104, y1=0.1404,
               line=dict(color="black", width=2), fillcolor="white", layer="above")]
annotations = []
for yy, name, color in zip(legend_rows_y, series_names, series_colors):
    shapes.append(dict(type="line", xref="paper", yref="paper", x0=0.0243, x1=0.1042, y0=yy, y1=yy,
                       line=dict(color=color, width=LW), layer="above"))
    annotations.append(dict(xref="paper", yref="paper", x=0.1132, y=yy, xanchor="left", yanchor="middle",
                            text=name, showarrow=False,
                            font=dict(family=FONT, size=FS, color="black")))

fig.update_layout(
    width=1796, height=1405,
    margin=dict(l=183, r=49, t=41, b=118),
    paper_bgcolor="white", plot_bgcolor="white",
    font=dict(family=FONT, size=FS, color="black"),
    title=dict(text=title_text, x=0.5, xref="paper", xanchor="center",
               y=1.0, yref="paper", yanchor="bottom", pad=dict(b=33),
               font=dict(family=FONT, size=FS, color="black")),
    shapes=shapes, annotations=annotations,
    showlegend=False,
)

fig.write_html("out.html", config={"displayModeBar": False},
               post_script="document.body.style.margin='0';")
